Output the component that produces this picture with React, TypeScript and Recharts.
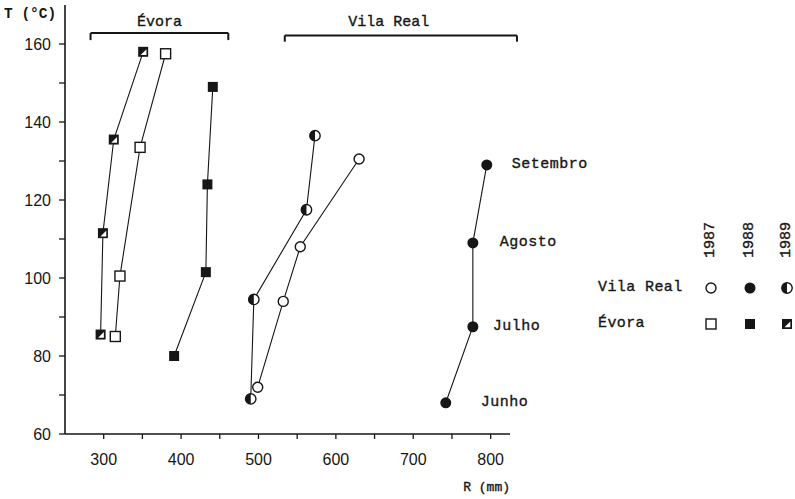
import React from 'react';
import { ScatterChart, Scatter, XAxis, YAxis, ReferenceLine, Legend } from 'recharts';

const months = ['Junho', 'Julho', 'Agosto', 'Setembro'];
const years = ['1987', '1988', '1989'];
const sites = ['Vila Real', 'Évora'];

// R (mm) and T (°C) per month, Junho -> Setembro
const evora1987R = [315, 321, 347, 380];
const evora1987T = [85, 100.5, 133.5, 157.5];
const evora1988R = [391, 432, 434, 441];
const evora1988T = [80, 101.5, 124, 149];
const evora1989R = [296, 299, 313, 351];
const evora1989T = [85.5, 111.5, 135.5, 158];

const vila1987R = [499, 532, 554, 630];
const vila1987T = [72, 94, 108, 130.5];
const vila1988R = [742, 777, 777, 795];
const vila1988T = [68, 87.5, 109, 129];
const vila1989R = [490, 494, 562, 573];
const vila1989T = [69, 94.5, 117.5, 136.5];

const xTicks = [300, 350, 400, 450, 500, 550, 600, 650, 700, 750, 800];
const yTicks = [60, 70, 80, 90, 100, 110, 120, 130, 140, 150, 160];

// group brackets over the plot, in R (mm)
const bracketNames = ['Évora', 'Vila Real'];
const bracketFrom = [283, 534];
const bracketTo = [461, 834];

const ink = '#161616';
const mono = '"Liberation Mono", "DejaVu Sans Mono", monospace';
const sans = '"Liberation Sans", Arial, sans-serif';
// typewriter text in the scan is a bit heavier than Liberation Mono regular
const heavy = { stroke: ink, strokeWidth: 0.35 };

const monthLabelDx = [35, 20, 27, 25];
const bracketY = [162.8, 162.2];
const bracketHookY = [161.0, 160.6];
const bracketLabelDx = [0, -12];
const bracketLabelOffset = [7, 9];

const toPoints = (R: number[], T: number[]) =>
  months.map((m, i) => ({ month: m, r: R[i], t: T[i] }));

const OpenCircle = ({ cx, cy }: any) => (
  <circle cx={cx} cy={cy} r={5} fill="#fff" stroke={ink} strokeWidth={1.4} />
);
const FilledCircle = ({ cx, cy }: any) => <circle cx={cx} cy={cy} r={5.5} fill={ink} />;
const HalfCircle = ({ cx, cy }: any) => {
  const r = 5.2;
  return (
    <g>
      <circle cx={cx} cy={cy} r={r} fill="#fff" stroke={ink} strokeWidth={1.4} />
      <path d={`M${cx},${cy - r} A${r},${r} 0 0 0 ${cx},${cy + r} Z`} fill={ink} />
    </g>
  );
};
const OpenSquare = ({ cx, cy }: any) => (
  <rect x={cx - 5} y={cy - 5} width={10} height={10} fill="#fff" stroke={ink} strokeWidth={1.4} />
);
const FilledSquare = ({ cx, cy }: any) => (
  <rect x={cx - 5} y={cy - 5} width={10} height={10} fill={ink} />
);
const HalfSquare = ({ cx, cy }: any) => (
  <g>
    <rect x={cx - 5} y={cy - 5} width={10} height={10} fill={ink} />
    <path d={`M${cx + 3.3},${cy - 2.5} L${cx + 3.3},${cy + 3.3} L${cx - 2.5},${cy + 3.3} Z`} fill="#fff" />
  </g>
);

const MonthDot = (props: any) => {
  const { cx, cy, payload } = props;
  const i = months.indexOf(payload.month);
  return (
    <g>
      <FilledCircle cx={cx} cy={cy} />
      <text x={cx + monthLabelDx[i]} y={cy} dominantBaseline="central" fontFamily={mono} fontSize={15} letterSpacing={0.5} fill={ink} {...heavy}>
        {payload.month}
      </text>
    </g>
  );
};

const YTick = ({ x, y, payload }: any) =>
  payload.value % 20 === 0 ? (
    <text x={x} y={y} textAnchor="end" dominantBaseline="central" fontFamily={sans} fontSize={16} fill={ink}>
      {payload.value}
    </text>
  ) : (
    <g />
  );

const XTick = ({ x, y, payload }: any) =>
  payload.value % 100 === 0 ? (
    <text x={x} y={y} textAnchor="middle" dy="0.71em" fontFamily={sans} fontSize={16} fill={ink}>
      {payload.value}
    </text>
  ) : (
    <g />
  );

const circleShapes = [OpenCircle, FilledCircle, HalfCircle];
const squareShapes = [OpenSquare, FilledSquare, HalfSquare];

const LegendBlock = () => {
  const colX = [126, 165, 202];
  const rowY = [83, 119];
  return (
    <svg width={210} height={135} style={{ overflow: 'visible', display: 'block' }}>
      {years.map((yr, i) => (
        <text key={yr} transform={`translate(${colX[i] - 1},35) rotate(-90)`} textAnchor="middle" dominantBaseline="central" fontFamily={mono} fontSize={15} fill={ink} {...heavy}>
          {yr}
        </text>
      ))}
      {sites.map((s, j) => (
        <text key={s} x={13} y={rowY[j] - 1} dominantBaseline="central" fontFamily={mono} fontSize={15} letterSpacing={0.4} fill={ink} {...heavy}>
          {s}
        </text>
      ))}
      {years.map((yr, i) => {
        const C = circleShapes[i];
        const S = squareShapes[i];
        return (
          <g key={yr}>
            <C cx={colX[i]} cy={rowY[0]} />
            <S cx={colX[i]} cy={rowY[1]} />
          </g>
        );
      })}
    </svg>
  );
};

const lineStyle = { stroke: ink, strokeWidth: 1.1 };

export default function App() {
  return (
    <div style={{ position: 'absolute', left: 0, top: 0, width: 795, height: 499, background: '#fff' }}>
      <ScatterChart width={795} height={499} margin={{ top: 5, right: 285, bottom: 0, left: 0 }}>
        <XAxis
          type="number"
          dataKey="r"
          domain={[250, 825]}
          ticks={xTicks}
          height={65}
          tickSize={5}
          tickMargin={15}
          tick={XTick}
          axisLine={{ stroke: ink, strokeWidth: 1.6 }}
          tickLine={{ stroke: ink, strokeWidth: 1.3 }}
          label={{
            content: () => (
              <text x={510} y={491} textAnchor="end" fontFamily={mono} fontSize={13} fill={ink} {...heavy}>
                R (mm)
              </text>
            ),
          }}
        />
        <YAxis
          type="number"
          dataKey="t"
          domain={[60, 170]}
          ticks={yTicks}
          width={65}
          tickSize={6}
          tickMargin={8}
          tick={YTick}
          axisLine={{ stroke: ink, strokeWidth: 1.6 }}
          tickLine={{ stroke: ink, strokeWidth: 1.3 }}
          label={{
            content: () => (
              <text x={4} y={18} fontFamily={mono} fontSize={14.5} fontWeight="bold" fill={ink}>
                T (°C)
              </text>
            ),
          }}
        />
        {bracketNames.map((name, k) => (
          <ReferenceLine
            key={name}
            ifOverflow="visible"
            segment={[
              { x: bracketFrom[k], y: bracketY[k] },
              { x: bracketTo[k], y: bracketY[k] },
            ]}
            stroke={ink}
            strokeWidth={2}
            label={{
              value: name,
              position: 'top',
              offset: bracketLabelOffset[k],
              dx: bracketLabelDx[k],
              fontFamily: mono,
              fontSize: 15,
              fill: ink,
              stroke: ink,
              strokeWidth: 0.35,
            }}
          />
        ))}
        {bracketNames.map((name, k) =>
          [bracketFrom[k], bracketTo[k]].map((bx, e) => (
            <ReferenceLine
              key={`${name}-${e}`}
              ifOverflow="visible"
              segment={[
                { x: bx, y: bracketY[k] },
                { x: bx, y: bracketHookY[k] },
              ]}
              stroke={ink}
              strokeWidth={2}
            />
          ))
        )}
        <Scatter data={toPoints(evora1987R, evora1987T)} line={lineStyle} shape={OpenSquare} isAnimationActive={false} />
        <Scatter data={toPoints(evora1988R, evora1988T)} line={lineStyle} shape={FilledSquare} isAnimationActive={false} />
        <Scatter data={toPoints(evora1989R, evora1989T)} line={lineStyle} shape={HalfSquare} isAnimationActive={false} />
        <Scatter data={toPoints(vila1987R, vila1987T)} line={lineStyle} shape={OpenCircle} isAnimationActive={false} />
        <Scatter data={toPoints(vila1988R, vila1988T)} line={lineStyle} shape={MonthDot} isAnimationActive={false} />
        <Scatter data={toPoints(vila1989R, vila1989T)} line={lineStyle} shape={HalfCircle} isAnimationActive={false} />
        <Legend
          layout="vertical"
          align="center"
          verticalAlign="middle"
          wrapperStyle={{ position: 'absolute', left: 585, top: 205, width: 210, height: 135 }}
          content={() => <LegendBlock />}
        />
      </ScatterChart>
    </div>
  );
}
